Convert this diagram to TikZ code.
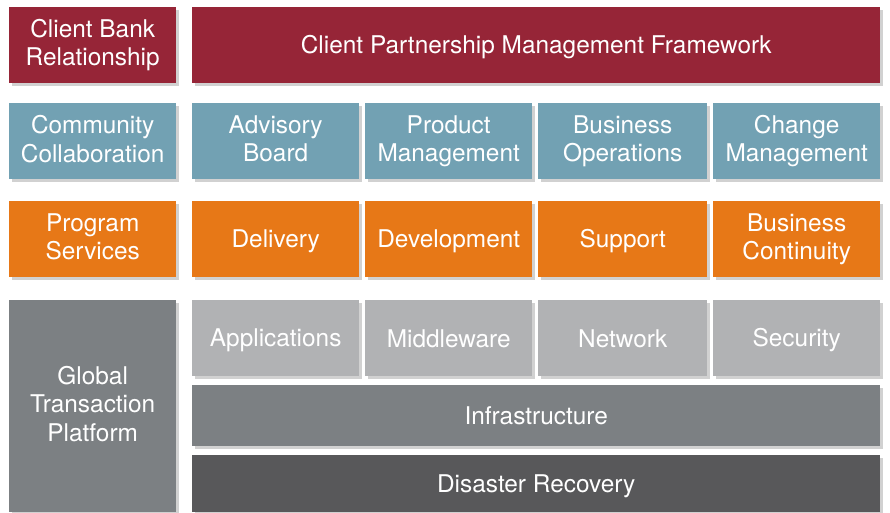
\documentclass[tikz,border=0pt]{standalone}
\usepackage{fontspec}
\setmainfont{TeX Gyre Heros}
\usetikzlibrary{shadows}
\definecolor{cred}{HTML}{962537}
\definecolor{cblue}{HTML}{72A1B3}
\definecolor{corange}{HTML}{E77817}
\definecolor{cgray}{HTML}{7C8083}
\definecolor{clight}{HTML}{B1B2B4}
\definecolor{cdark}{HTML}{58585A}
\newcommand{\tilestrut}{\rule[-5pt]{0pt}{27.6pt}}
\tikzset{
  tile/.style={rectangle, draw=none, anchor=north west, inner sep=0pt, text=white, align=center,
    font=\fontsize{24.4}{28.5}\selectfont,
    execute at begin node=\tilestrut, execute at end node=\tilestrut,
    drop shadow={shadow xshift=3pt, shadow yshift=-3pt, opacity=0.3, fill=black!60}},
  redtile/.style={tile, fill=cred},
  bluetile/.style={tile, fill=cblue},
  orangetile/.style={tile, fill=corange},
  graytile/.style={tile, fill=cgray},
  lighttile/.style={tile, fill=clight},
  darktile/.style={tile, fill=cdark},
}
\begin{document}
\begin{tikzpicture}[x=1pt,y=-1pt]
\useasboundingbox (0,0) rectangle (890,512);
% row 1
\node[redtile, minimum width=167pt, minimum height=76pt] (cbr) at (9,7) {Client Bank\\Relationship};
\node[redtile, minimum width=688pt, minimum height=76pt] (cpm) at (192,7) {Client Partnership Management Framework};
% row 2
\node[bluetile, minimum width=167pt, minimum height=76pt] (cc) at (9,103) {Community\\Collaboration};
\node[bluetile, minimum width=167pt, minimum height=76pt] (ab) at (192,103) {Advisory\\Board};
\node[bluetile, minimum width=167pt, minimum height=76pt] (pm) at (365,103) {Product\\Management};
\node[bluetile, minimum width=169pt, minimum height=76pt] (bo) at (538,103) {Business\\Operations};
\node[bluetile, minimum width=167pt, minimum height=76pt] (chm) at (713,103) {Change\\Management};
% row 3
\node[orangetile, minimum width=167pt, minimum height=76pt] (ps) at (9,201) {Program\\Services};
\node[orangetile, minimum width=167pt, minimum height=76pt] (del) at (192,201) {Delivery};
\node[orangetile, minimum width=167pt, minimum height=76pt] (dev) at (365,201) {Development};
\node[orangetile, minimum width=169pt, minimum height=76pt] (sup) at (538,201) {Support};
\node[orangetile, minimum width=167pt, minimum height=76pt] (bc) at (713,201) {Business\\Continuity};
% row 4
\node[graytile, minimum width=167pt, minimum height=212pt] (gtp) at (9,300) {Global\\Transaction\\Platform};
\node[lighttile, minimum width=167pt, minimum height=76pt] (app) at (192,300) {Applications};
\node[lighttile, minimum width=167pt, minimum height=76pt] (mid) at (365,300) {Middleware};
\node[lighttile, minimum width=169pt, minimum height=76pt] (net) at (538,300) {Network};
\node[lighttile, minimum width=167pt, minimum height=76pt] (sec) at (713,300) {Security};
\node[graytile, minimum width=688pt, minimum height=61pt] (inf) at (192,385) {Infrastructure};
\node[darktile, minimum width=688pt, minimum height=57pt] (dr) at (192,455) {Disaster Recovery};
\end{tikzpicture}
\end{document}
